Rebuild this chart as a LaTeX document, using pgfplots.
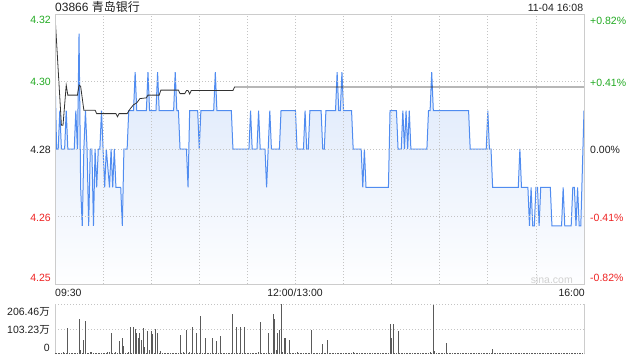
\documentclass[border=0pt]{standalone}
\usepackage{fontspec}
\setmainfont{Liberation Sans}
\newfontfamily\cjk{Noto Sans CJK SC}
\usepackage{pgfplots}
\pgfplotsset{compat=1.18}
\usepackage{pgfplotstable}
\definecolor{upg}{RGB}{34,170,34}
\definecolor{dnr}{RGB}{238,34,34}
\definecolor{pline}{RGB}{80,140,240}
\definecolor{pfill}{RGB}{216,229,250}
\definecolor{framec}{RGB}{204,204,204}
\definecolor{gridc}{RGB}{196,196,196}
\definecolor{vbar}{RGB}{90,90,90}
\definecolor{avgc}{RGB}{50,50,50}
\newcommand{\lbl}{\fontsize{10.5}{12}\selectfont}

\pgfplotstableread{
t p
0 4.30
1 4.28
2 4.28
3 4.29
4 4.28
6 4.28
7 4.29
8 4.28
12 4.28
13 4.29
14 4.28
15 4.31
16 4.27
17 4.26
18 4.28
19 4.29
20 4.28
21 4.26
22 4.28
23 4.28
24 4.26
25 4.28
26 4.27
27 4.28
28 4.28
29 4.29
30 4.28
31 4.27
32 4.28
34 4.27
35 4.28
36 4.27
37 4.28
38 4.27
41 4.27
42 4.26
43 4.28
45 4.28
46 4.29
49 4.29
50 4.30
51 4.29
57 4.29
58 4.30
59 4.29
63 4.29
64 4.30
65 4.29
74 4.29
75 4.30
76 4.29
77 4.29
78 4.28
82 4.28
83 4.27
84 4.29
89 4.29
90 4.28
91 4.29
99 4.29
100 4.30
101 4.29
110 4.29
111 4.28
121 4.28
122 4.29
123 4.28
126 4.28
127 4.29
128 4.28
131 4.28
132 4.27
133 4.28
134 4.29
135 4.28
140 4.28
141 4.29
150 4.29
151 4.28
155 4.28
156 4.29
157 4.28
158 4.28
159 4.29
166 4.29
167 4.28
168 4.28
169 4.29
175 4.29
176 4.30
177 4.29
178 4.29
179 4.30
180 4.29
185 4.29
186 4.28
191 4.28
192 4.27
193 4.28
194 4.27
208 4.27
209 4.29
213 4.29
214 4.28
216 4.28
217 4.29
218 4.28
219 4.29
220 4.28
221 4.29
222 4.28
232 4.28
233 4.29
234 4.29
235 4.30
236 4.29
258 4.29
259 4.28
269 4.28
270 4.29
271 4.28
272 4.28
273 4.27
289 4.27
290 4.28
291 4.27
295 4.27
296 4.26
297 4.27
298 4.26
299 4.26
300 4.27
301 4.27
302 4.26
303 4.27
309 4.27
310 4.26
316 4.26
317 4.27
318 4.26
322 4.26
323 4.27
324 4.27
325 4.26
326 4.27
327 4.26
328 4.26
330 4.29
}\pricetab

\pgfplotstableread{
t a
0 4.3148
4 4.2862
5 4.2862
7 4.2966
8 4.2940
14 4.2940
15 4.2966
16 4.2963
18 4.2901
25 4.2901
26 4.2892
38 4.2892
39 4.2884
40 4.2892
45 4.2892
47 4.2905
49 4.2915
51 4.2920
53 4.2931
57 4.2933
58 4.2940
65 4.2940
66 4.2953
77 4.2953
78 4.2944
81 4.2944
82 4.2952
83 4.2952
84 4.2943
85 4.2952
111 4.2952
112 4.2961
330 4.2961
}\avgtab

\pgfplotstableread[row sep=\\]{
t v\\
0 3\\1 3\\2 3\\3 3\\4 3\\5 8\\6 3\\7 3\\8 109\\9 6\\
10 3\\11 3\\12 3\\13 3\\14 3\\15 146\\16 18\\17 3\\18 60\\19 139\\
20 3\\21 3\\22 8\\23 8\\24 3\\25 3\\26 3\\27 3\\28 6\\29 3\\
30 3\\31 3\\32 3\\33 10\\34 8\\35 89\\36 3\\37 3\\38 8\\39 3\\
40 56\\41 3\\42 67\\43 33\\44 3\\45 3\\46 8\\47 113\\48 3\\49 113\\
50 102\\51 89\\52 67\\53 89\\54 60\\55 109\\56 29\\57 3\\58 96\\59 18\\
60 96\\61 85\\62 3\\63 105\\64 89\\65 3\\66 14\\67 3\\68 3\\69 3\\
70 3\\71 3\\72 3\\73 3\\74 3\\75 3\\76 3\\77 3\\78 81\\79 3\\
80 8\\81 3\\82 100\\83 3\\84 8\\85 3\\86 113\\87 3\\88 89\\89 3\\
90 3\\91 159\\92 3\\93 3\\94 67\\95 3\\96 3\\97 3\\98 67\\99 3\\
100 3\\101 56\\102 3\\103 75\\104 3\\105 3\\106 3\\107 3\\108 3\\109 3\\
110 3\\111 167\\112 3\\113 113\\114 3\\115 3\\116 113\\117 3\\118 113\\119 3\\
120 3\\121 3\\122 3\\123 3\\124 3\\125 3\\126 3\\127 7\\128 134\\129 3\\
130 3\\131 3\\132 3\\133 89\\134 3\\135 3\\136 167\\137 146\\138 18\\139 89\\
140 100\\141 206.46\\142 8\\143 67\\144 67\\145 3\\146 59\\147 3\\148 3\\149 3\\
150 3\\151 8\\152 3\\153 3\\154 3\\155 3\\156 3\\157 3\\158 3\\159 3\\
160 100\\161 3\\162 3\\163 3\\164 3\\165 3\\166 3\\167 42\\168 3\\169 3\\
170 59\\171 3\\172 3\\173 3\\174 3\\175 3\\176 3\\177 3\\178 3\\179 3\\
180 3\\181 3\\182 3\\183 3\\184 3\\185 3\\186 8\\187 3\\188 3\\189 3\\
190 3\\191 3\\192 3\\193 3\\194 3\\195 3\\196 3\\197 3\\198 3\\199 3\\
200 3\\201 3\\202 3\\203 3\\204 3\\205 3\\206 3\\207 3\\208 3\\209 126\\
210 67\\211 126\\212 3\\213 3\\214 96\\215 3\\216 3\\217 3\\218 3\\219 3\\
220 3\\221 3\\222 3\\223 3\\224 3\\225 3\\226 3\\227 3\\228 3\\229 3\\
230 3\\231 3\\232 3\\233 3\\234 8\\235 3\\236 205\\237 11\\238 3\\239 3\\
240 3\\241 3\\242 3\\243 3\\244 46\\245 3\\246 3\\247 3\\248 3\\249 3\\
250 3\\251 3\\252 3\\253 3\\254 3\\255 3\\256 3\\257 3\\258 3\\259 3\\
260 3\\261 3\\262 3\\263 3\\264 3\\265 3\\266 3\\267 3\\268 3\\269 3\\
270 3\\271 3\\272 3\\273 21\\274 3\\275 3\\276 3\\277 3\\278 3\\279 3\\
280 3\\281 3\\282 3\\283 3\\284 3\\285 3\\286 3\\287 3\\288 3\\289 3\\
290 3\\291 3\\292 3\\293 3\\294 3\\295 3\\296 3\\297 3\\298 3\\299 3\\
300 3\\301 3\\302 3\\303 3\\304 3\\305 3\\306 3\\307 3\\308 3\\309 3\\
310 3\\311 3\\312 3\\313 3\\314 3\\315 3\\316 3\\317 3\\318 3\\319 3\\
320 3\\321 3\\322 3\\323 3\\324 3\\325 3\\326 3\\327 3\\328 3\\329 4\\
330 4\\
}\voltab

\begin{document}
\begin{tikzpicture}
\path[use as bounding box] (0pt,0pt) rectangle (640pt,360pt);
\begin{axis}[at={(55pt,76pt)}, anchor=south west, scale only axis,
  width=529pt, height=270pt,
  xmin=0, xmax=330, ymin=4.244904, ymax=4.315096,
  xtick={30,60,...,300}, ytick={4.262452,4.28,4.297548},
  xticklabels={}, yticklabels={}, major tick length=0pt,
  grid=major, grid style={gridc, line width=0.8pt, dash pattern=on 1pt off 2pt},
  axis line style={draw=framec, line width=0.8pt},
  axis on top]
\addplot[draw=none, top color=pfill, bottom color=white!97!pfill] table[x=t,y=p]{\pricetab} |- (axis cs:0,4.244904) -- cycle;
\addplot[pline, line width=1pt, mark=none] table[x=t,y=p]{\pricetab};
\addplot[avgc, line width=0.8pt, mark=none] table[x=t,y=a]{\avgtab};
\end{axis}
\begin{axis}[at={(55pt,6pt)}, anchor=south west, scale only axis,
  width=529pt, height=49.7pt,
  xmin=0, xmax=330, ymin=0, ymax=206.46,
  xtick=\empty, ytick={103.23,206.46}, yticklabels={}, major tick length=0pt,
  ymajorgrids, grid style={gridc, line width=0.8pt, dash pattern=on 1pt off 2pt},
  separate axis lines, x axis line style={draw=none}, y axis line style={draw=framec, line width=0.8pt}]
\addplot[ycomb, vbar, line width=1pt, mark=none] table[x=t,y=v]{\voltab};
\end{axis}
% titles
\node[anchor=base west, inner sep=0pt, font=\fontsize{12}{14}\selectfont, text=black!88] at (55pt,348.3pt) {03866 {\cjk 青岛银行}};
\node[anchor=base east, inner sep=0pt, font=\lbl, text=black!88] at (583.3pt,348.3pt) {11-04 16:08};
% left price labels
\node[anchor=base east, inner sep=0pt, font=\lbl, text=upg] at (51pt,336.7pt) {4.32};
\node[anchor=base east, inner sep=0pt, font=\lbl, text=upg] at (51pt,274.3pt) {4.30};
\node[anchor=base east, inner sep=0pt, font=\lbl, text=black!88] at (51pt,206.7pt) {4.28};
\node[anchor=base east, inner sep=0pt, font=\lbl, text=dnr] at (51pt,139pt) {4.26};
\node[anchor=base east, inner sep=0pt, font=\lbl, text=dnr] at (51pt,78.3pt) {4.25};
% right pct labels
\node[anchor=base west, inner sep=0pt, font=\lbl, text=upg] at (590pt,335.7pt) {+0.82\%};
\node[anchor=base west, inner sep=0pt, font=\lbl, text=upg] at (590pt,274pt) {+0.41\%};
\node[anchor=base west, inner sep=0pt, font=\lbl, text=black!88] at (590pt,206.7pt) {0.00\%};
\node[anchor=base west, inner sep=0pt, font=\lbl, text=dnr] at (590pt,139pt) {-0.41\%};
\node[anchor=base west, inner sep=0pt, font=\lbl, text=dnr] at (590pt,78.3pt) {-0.82\%};
% time labels
\node[anchor=base west, inner sep=0pt, font=\lbl, text=black!88] at (55pt,63.3pt) {09:30};
\node[anchor=base, inner sep=0pt, font=\lbl, text=black!88] at (295pt,63.3pt) {12:00/13:00};
\node[anchor=base east, inner sep=0pt, font=\lbl, text=black!88] at (585pt,63.3pt) {16:00};
% watermark
\node[anchor=base east, inner sep=0pt, font=\lbl, text=black!18] at (573pt,77pt) {sina.com};
% volume labels
\node[anchor=base east, inner sep=0pt, font=\lbl, text=black!88] at (50pt,45pt) {206.46{\cjk 万}};
\node[anchor=base east, inner sep=0pt, font=\lbl, text=black!88] at (50pt,26.7pt) {103.23{\cjk 万}};
\node[anchor=base east, inner sep=0pt, font=\lbl, text=black!88] at (50pt,8.3pt) {0};
\end{tikzpicture}
\end{document}
